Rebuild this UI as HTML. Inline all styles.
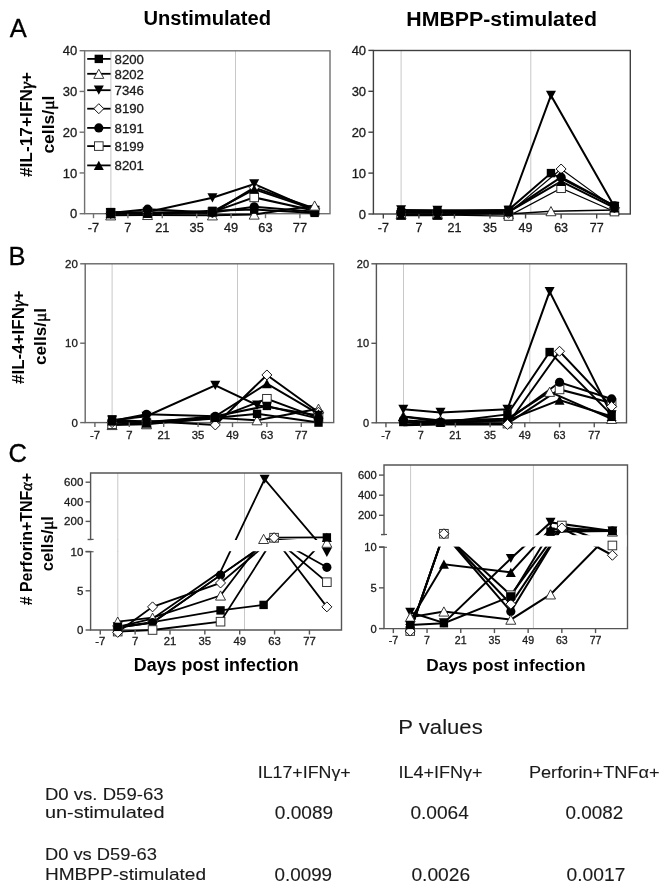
<!DOCTYPE html>
<html><head><meta charset="utf-8"><style>
html,body{margin:0;padding:0;background:#fff;width:672px;height:892px;overflow:hidden;}
svg{display:block;filter:grayscale(1);}
</style></head><body>
<svg width="672" height="892" viewBox="0 0 672 892">
<rect width="672" height="892" fill="#fff"/>
<line x1="110.9" y1="50.8" x2="110.9" y2="213.7" stroke="#c8c8c8" stroke-width="1"/>
<line x1="235.5" y1="50.8" x2="235.5" y2="213.7" stroke="#c8c8c8" stroke-width="1"/>
<rect x="84.6" y="50.8" width="245.4" height="162.9" fill="none" stroke="#707070" stroke-width="1.4"/>
<path d="M110.7 215.33L147.56 214.92L212.42 215.33L254.19 214.51L314.63 205.55" fill="none" stroke="#000" stroke-width="2.0" stroke-linejoin="miter"/>
<path d="M110.7 213.7L147.56 212.88L212.42 212.07L254.19 197.4L314.63 210.85" fill="none" stroke="#000" stroke-width="2.0" stroke-linejoin="miter"/>
<path d="M110.7 213.7L147.56 212.48L212.42 212.88L254.19 187.62L314.63 208.4" fill="none" stroke="#000" stroke-width="2.0" stroke-linejoin="miter"/>
<path d="M110.7 213.29L147.56 212.88L212.42 211.66L254.19 189.25L314.63 209.62" fill="none" stroke="#000" stroke-width="2.0" stroke-linejoin="miter"/>
<path d="M110.7 212.88L147.56 209.22L212.42 212.48L254.19 206.77L314.63 211.66" fill="none" stroke="#000" stroke-width="2.0" stroke-linejoin="miter"/>
<path d="M110.7 212.07L147.56 213.7L212.42 210.85L254.19 209.62L314.63 212.88" fill="none" stroke="#000" stroke-width="2.0" stroke-linejoin="miter"/>
<path d="M110.7 212.48L147.56 212.07L212.42 197.81L254.19 183.95L314.63 210.44" fill="none" stroke="#000" stroke-width="2.0" stroke-linejoin="miter"/>
<path d="M110.7 210.73L115.7 219.93L105.7 219.93Z" fill="#fff" stroke="#222" stroke-width="0.9"/>
<path d="M147.56 210.32L152.56 219.52L142.56 219.52Z" fill="#fff" stroke="#222" stroke-width="0.9"/>
<path d="M212.42 210.73L217.42 219.93L207.42 219.93Z" fill="#fff" stroke="#222" stroke-width="0.9"/>
<path d="M254.19 209.91L259.19 219.11L249.19 219.11Z" fill="#fff" stroke="#222" stroke-width="0.9"/>
<rect x="106.4" y="209.4" width="8.6" height="8.6" fill="#fff" stroke="#333" stroke-width="1"/>
<rect x="143.25" y="208.58" width="8.6" height="8.6" fill="#fff" stroke="#333" stroke-width="1"/>
<rect x="208.12" y="207.77" width="8.6" height="8.6" fill="#fff" stroke="#333" stroke-width="1"/>
<rect x="249.89" y="193.1" width="8.6" height="8.6" fill="#fff" stroke="#333" stroke-width="1"/>
<rect x="310.33" y="206.55" width="8.6" height="8.6" fill="#fff" stroke="#333" stroke-width="1"/>
<path d="M110.7 208.7L115.7 213.7L110.7 218.7L105.7 213.7Z" fill="#fff" stroke="#111" stroke-width="1"/>
<path d="M147.56 207.48L152.56 212.48L147.56 217.48L142.56 212.48Z" fill="#fff" stroke="#111" stroke-width="1"/>
<path d="M212.42 207.88L217.42 212.88L212.42 217.88L207.42 212.88Z" fill="#fff" stroke="#111" stroke-width="1"/>
<path d="M254.19 182.62L259.19 187.62L254.19 192.62L249.19 187.62Z" fill="#fff" stroke="#111" stroke-width="1"/>
<path d="M314.63 203.4L319.63 208.4L314.63 213.4L309.63 208.4Z" fill="#fff" stroke="#111" stroke-width="1"/>
<path d="M110.7 208.69L115.7 217.89L105.7 217.89Z" fill="#000"/>
<path d="M147.56 208.28L152.56 217.48L142.56 217.48Z" fill="#000"/>
<path d="M212.42 207.06L217.42 216.26L207.42 216.26Z" fill="#000"/>
<path d="M254.19 184.65L259.19 193.85L249.19 193.85Z" fill="#000"/>
<path d="M314.63 205.03L319.63 214.22L309.63 214.22Z" fill="#000"/>
<circle cx="110.7" cy="212.88" r="4.6" fill="#000"/>
<circle cx="147.56" cy="209.22" r="4.6" fill="#000"/>
<circle cx="212.42" cy="212.48" r="4.6" fill="#000"/>
<circle cx="254.19" cy="206.77" r="4.6" fill="#000"/>
<circle cx="314.63" cy="211.66" r="4.6" fill="#000"/>
<rect x="106.5" y="207.87" width="8.4" height="8.4" fill="#000"/>
<rect x="143.36" y="209.5" width="8.4" height="8.4" fill="#000"/>
<rect x="208.22" y="206.65" width="8.4" height="8.4" fill="#000"/>
<rect x="249.99" y="205.43" width="8.4" height="8.4" fill="#000"/>
<rect x="310.43" y="208.69" width="8.4" height="8.4" fill="#000"/>
<path d="M105.7 207.88L115.7 207.88L110.7 217.08Z" fill="#000"/>
<path d="M142.56 207.47L152.56 207.47L147.56 216.67Z" fill="#000"/>
<path d="M207.42 193.21L217.42 193.21L212.42 202.41Z" fill="#000"/>
<path d="M249.19 179.35L259.19 179.35L254.19 188.55Z" fill="#000"/>
<path d="M309.63 205.84L319.63 205.84L314.63 215.04Z" fill="#000"/>
<path d="M314.63 200.95L319.63 210.15L309.63 210.15Z" fill="#fff" stroke="#222" stroke-width="0.9"/>
<line x1="79.6" y1="213.7" x2="84.6" y2="213.7" stroke="#707070" stroke-width="1.4"/>
<text x="77.3" y="218.31" font-family='"Liberation Sans", sans-serif' font-size="13" font-weight="normal" text-anchor="end" fill="#1a1a1a" stroke="#1a1a1a" stroke-width="0.3" >0</text>
<line x1="79.6" y1="172.95" x2="84.6" y2="172.95" stroke="#707070" stroke-width="1.4"/>
<text x="77.3" y="177.56" font-family='"Liberation Sans", sans-serif' font-size="13" font-weight="normal" text-anchor="end" fill="#1a1a1a" stroke="#1a1a1a" stroke-width="0.3" >10</text>
<line x1="79.6" y1="132.2" x2="84.6" y2="132.2" stroke="#707070" stroke-width="1.4"/>
<text x="77.3" y="136.81" font-family='"Liberation Sans", sans-serif' font-size="13" font-weight="normal" text-anchor="end" fill="#1a1a1a" stroke="#1a1a1a" stroke-width="0.3" >20</text>
<line x1="79.6" y1="91.45" x2="84.6" y2="91.45" stroke="#707070" stroke-width="1.4"/>
<text x="77.3" y="96.06" font-family='"Liberation Sans", sans-serif' font-size="13" font-weight="normal" text-anchor="end" fill="#1a1a1a" stroke="#1a1a1a" stroke-width="0.3" >30</text>
<line x1="79.6" y1="50.7" x2="84.6" y2="50.7" stroke="#707070" stroke-width="1.4"/>
<text x="77.3" y="55.31" font-family='"Liberation Sans", sans-serif' font-size="13" font-weight="normal" text-anchor="end" fill="#1a1a1a" stroke="#1a1a1a" stroke-width="0.3" >40</text>
<line x1="93.5" y1="213.7" x2="93.5" y2="218.2" stroke="#707070" stroke-width="1.4"/>
<text x="93.5" y="232.1" font-family='"Liberation Sans", sans-serif' font-size="12.8" font-weight="normal" text-anchor="middle" fill="#1a1a1a" stroke="#1a1a1a" stroke-width="0.3" >-7</text>
<line x1="127.9" y1="213.7" x2="127.9" y2="218.2" stroke="#707070" stroke-width="1.4"/>
<text x="127.9" y="232.1" font-family='"Liberation Sans", sans-serif' font-size="12.8" font-weight="normal" text-anchor="middle" fill="#1a1a1a" stroke="#1a1a1a" stroke-width="0.3" >7</text>
<line x1="162.3" y1="213.7" x2="162.3" y2="218.2" stroke="#707070" stroke-width="1.4"/>
<text x="162.3" y="232.1" font-family='"Liberation Sans", sans-serif' font-size="12.8" font-weight="normal" text-anchor="middle" fill="#1a1a1a" stroke="#1a1a1a" stroke-width="0.3" >21</text>
<line x1="196.69" y1="213.7" x2="196.69" y2="218.2" stroke="#707070" stroke-width="1.4"/>
<text x="196.69" y="232.1" font-family='"Liberation Sans", sans-serif' font-size="12.8" font-weight="normal" text-anchor="middle" fill="#1a1a1a" stroke="#1a1a1a" stroke-width="0.3" >35</text>
<line x1="231.09" y1="213.7" x2="231.09" y2="218.2" stroke="#707070" stroke-width="1.4"/>
<text x="231.09" y="232.1" font-family='"Liberation Sans", sans-serif' font-size="12.8" font-weight="normal" text-anchor="middle" fill="#1a1a1a" stroke="#1a1a1a" stroke-width="0.3" >49</text>
<line x1="265.49" y1="213.7" x2="265.49" y2="218.2" stroke="#707070" stroke-width="1.4"/>
<text x="265.49" y="232.1" font-family='"Liberation Sans", sans-serif' font-size="12.8" font-weight="normal" text-anchor="middle" fill="#1a1a1a" stroke="#1a1a1a" stroke-width="0.3" >63</text>
<line x1="299.89" y1="213.7" x2="299.89" y2="218.2" stroke="#707070" stroke-width="1.4"/>
<text x="299.89" y="232.1" font-family='"Liberation Sans", sans-serif' font-size="12.8" font-weight="normal" text-anchor="middle" fill="#1a1a1a" stroke="#1a1a1a" stroke-width="0.3" >77</text>
<line x1="401.1" y1="50.5" x2="401.1" y2="214" stroke="#c8c8c8" stroke-width="1"/>
<line x1="530.8" y1="50.5" x2="530.8" y2="214" stroke="#c8c8c8" stroke-width="1"/>
<rect x="373.4" y="50.5" width="256.9" height="163.5" fill="none" stroke="#404040" stroke-width="1.4"/>
<path d="M401.1 214L437.42 214L508.54 214L550.96 211.14L614.46 209.91" fill="none" stroke="#000" stroke-width="1.5" stroke-linejoin="miter"/>
<path d="M401.1 214.82L437.42 214.82L508.54 216.04L561.12 188.23L614.46 211.55" fill="none" stroke="#000" stroke-width="1.2" stroke-linejoin="miter"/>
<path d="M401.1 215.23L437.42 215.23L508.54 211.96L561.12 181.28L614.46 207.87" fill="none" stroke="#000" stroke-width="2.0" stroke-linejoin="miter"/>
<path d="M401.1 211.96L437.42 211.96L508.54 211.96L561.12 177.19L614.46 205.82" fill="none" stroke="#000" stroke-width="2.0" stroke-linejoin="miter"/>
<path d="M401.1 213.18L437.42 213.18L508.54 213.18L561.12 169.01L614.46 207.87" fill="none" stroke="#000" stroke-width="1.2" stroke-linejoin="miter"/>
<path d="M401.1 211.96L437.42 211.55L508.54 209.91L550.96 173.1L614.46 205.82" fill="none" stroke="#000" stroke-width="2.0" stroke-linejoin="miter"/>
<path d="M401.1 209.91L437.42 210.32L508.54 210.32L550.96 95.39L614.46 206.64" fill="none" stroke="#000" stroke-width="2.0" stroke-linejoin="miter"/>
<path d="M401.1 209.4L406.1 218.6L396.1 218.6Z" fill="#fff" stroke="#222" stroke-width="0.9"/>
<path d="M437.42 209.4L442.42 218.6L432.42 218.6Z" fill="#fff" stroke="#222" stroke-width="0.9"/>
<path d="M508.54 209.4L513.54 218.6L503.54 218.6Z" fill="#fff" stroke="#222" stroke-width="0.9"/>
<path d="M550.96 206.54L555.96 215.74L545.96 215.74Z" fill="#fff" stroke="#222" stroke-width="0.9"/>
<path d="M614.46 205.31L619.46 214.51L609.46 214.51Z" fill="#fff" stroke="#222" stroke-width="0.9"/>
<rect x="396.8" y="210.52" width="8.6" height="8.6" fill="#fff" stroke="#333" stroke-width="1"/>
<rect x="433.12" y="210.52" width="8.6" height="8.6" fill="#fff" stroke="#333" stroke-width="1"/>
<rect x="504.24" y="211.74" width="8.6" height="8.6" fill="#fff" stroke="#333" stroke-width="1"/>
<rect x="556.82" y="183.93" width="8.6" height="8.6" fill="#fff" stroke="#333" stroke-width="1"/>
<rect x="610.16" y="207.25" width="8.6" height="8.6" fill="#fff" stroke="#333" stroke-width="1"/>
<path d="M401.1 208.18L406.1 213.18L401.1 218.18L396.1 213.18Z" fill="#fff" stroke="#111" stroke-width="1"/>
<path d="M437.42 208.18L442.42 213.18L437.42 218.18L432.42 213.18Z" fill="#fff" stroke="#111" stroke-width="1"/>
<path d="M508.54 208.18L513.54 213.18L508.54 218.18L503.54 213.18Z" fill="#fff" stroke="#111" stroke-width="1"/>
<path d="M561.12 164.01L566.12 169.01L561.12 174.01L556.12 169.01Z" fill="#fff" stroke="#111" stroke-width="1"/>
<path d="M614.46 202.87L619.46 207.87L614.46 212.87L609.46 207.87Z" fill="#fff" stroke="#111" stroke-width="1"/>
<path d="M401.1 210.63L406.1 219.83L396.1 219.83Z" fill="#000"/>
<path d="M437.42 210.63L442.42 219.83L432.42 219.83Z" fill="#000"/>
<path d="M508.54 207.36L513.54 216.56L503.54 216.56Z" fill="#000"/>
<path d="M561.12 176.68L566.12 185.88L556.12 185.88Z" fill="#000"/>
<path d="M614.46 203.27L619.46 212.47L609.46 212.47Z" fill="#000"/>
<circle cx="401.1" cy="211.96" r="4.6" fill="#000"/>
<circle cx="437.42" cy="211.96" r="4.6" fill="#000"/>
<circle cx="508.54" cy="211.96" r="4.6" fill="#000"/>
<circle cx="561.12" cy="177.19" r="4.6" fill="#000"/>
<circle cx="614.46" cy="205.82" r="4.6" fill="#000"/>
<rect x="396.9" y="207.76" width="8.4" height="8.4" fill="#000"/>
<rect x="433.22" y="207.35" width="8.4" height="8.4" fill="#000"/>
<rect x="504.34" y="205.71" width="8.4" height="8.4" fill="#000"/>
<rect x="546.76" y="168.9" width="8.4" height="8.4" fill="#000"/>
<rect x="610.26" y="201.62" width="8.4" height="8.4" fill="#000"/>
<path d="M396.1 205.31L406.1 205.31L401.1 214.51Z" fill="#000"/>
<path d="M432.42 205.72L442.42 205.72L437.42 214.92Z" fill="#000"/>
<path d="M503.54 205.72L513.54 205.72L508.54 214.92Z" fill="#000"/>
<path d="M545.96 90.79L555.96 90.79L550.96 99.99Z" fill="#000"/>
<path d="M609.46 202.04L619.46 202.04L614.46 211.24Z" fill="#000"/>
<line x1="368.4" y1="214" x2="373.4" y2="214" stroke="#404040" stroke-width="1.4"/>
<text x="366.1" y="218.62" font-family='"Liberation Sans", sans-serif' font-size="13" font-weight="normal" text-anchor="end" fill="#1a1a1a" stroke="#1a1a1a" stroke-width="0.3" >0</text>
<line x1="368.4" y1="173.1" x2="373.4" y2="173.1" stroke="#404040" stroke-width="1.4"/>
<text x="366.1" y="177.72" font-family='"Liberation Sans", sans-serif' font-size="13" font-weight="normal" text-anchor="end" fill="#1a1a1a" stroke="#1a1a1a" stroke-width="0.3" >10</text>
<line x1="368.4" y1="132.2" x2="373.4" y2="132.2" stroke="#404040" stroke-width="1.4"/>
<text x="366.1" y="136.81" font-family='"Liberation Sans", sans-serif' font-size="13" font-weight="normal" text-anchor="end" fill="#1a1a1a" stroke="#1a1a1a" stroke-width="0.3" >20</text>
<line x1="368.4" y1="91.3" x2="373.4" y2="91.3" stroke="#404040" stroke-width="1.4"/>
<text x="366.1" y="95.92" font-family='"Liberation Sans", sans-serif' font-size="13" font-weight="normal" text-anchor="end" fill="#1a1a1a" stroke="#1a1a1a" stroke-width="0.3" >30</text>
<line x1="368.4" y1="50.4" x2="373.4" y2="50.4" stroke="#404040" stroke-width="1.4"/>
<text x="366.1" y="55.02" font-family='"Liberation Sans", sans-serif' font-size="13" font-weight="normal" text-anchor="end" fill="#1a1a1a" stroke="#1a1a1a" stroke-width="0.3" >40</text>
<line x1="383.32" y1="214" x2="383.32" y2="218.5" stroke="#404040" stroke-width="1.4"/>
<text x="383.32" y="231.7" font-family='"Liberation Sans", sans-serif' font-size="12.5" font-weight="normal" text-anchor="middle" fill="#1a1a1a" stroke="#1a1a1a" stroke-width="0.3" >-7</text>
<line x1="418.88" y1="214" x2="418.88" y2="218.5" stroke="#404040" stroke-width="1.4"/>
<text x="418.88" y="231.7" font-family='"Liberation Sans", sans-serif' font-size="12.5" font-weight="normal" text-anchor="middle" fill="#1a1a1a" stroke="#1a1a1a" stroke-width="0.3" >7</text>
<line x1="454.44" y1="214" x2="454.44" y2="218.5" stroke="#404040" stroke-width="1.4"/>
<text x="454.44" y="231.7" font-family='"Liberation Sans", sans-serif' font-size="12.5" font-weight="normal" text-anchor="middle" fill="#1a1a1a" stroke="#1a1a1a" stroke-width="0.3" >21</text>
<line x1="490" y1="214" x2="490" y2="218.5" stroke="#404040" stroke-width="1.4"/>
<text x="490" y="231.7" font-family='"Liberation Sans", sans-serif' font-size="12.5" font-weight="normal" text-anchor="middle" fill="#1a1a1a" stroke="#1a1a1a" stroke-width="0.3" >35</text>
<line x1="525.56" y1="214" x2="525.56" y2="218.5" stroke="#404040" stroke-width="1.4"/>
<text x="525.56" y="231.7" font-family='"Liberation Sans", sans-serif' font-size="12.5" font-weight="normal" text-anchor="middle" fill="#1a1a1a" stroke="#1a1a1a" stroke-width="0.3" >49</text>
<line x1="561.12" y1="214" x2="561.12" y2="218.5" stroke="#404040" stroke-width="1.4"/>
<text x="561.12" y="231.7" font-family='"Liberation Sans", sans-serif' font-size="12.5" font-weight="normal" text-anchor="middle" fill="#1a1a1a" stroke="#1a1a1a" stroke-width="0.3" >63</text>
<line x1="596.68" y1="214" x2="596.68" y2="218.5" stroke="#404040" stroke-width="1.4"/>
<text x="596.68" y="231.7" font-family='"Liberation Sans", sans-serif' font-size="12.5" font-weight="normal" text-anchor="middle" fill="#1a1a1a" stroke="#1a1a1a" stroke-width="0.3" >77</text>
<line x1="112.1" y1="263.8" x2="112.1" y2="422.6" stroke="#c8c8c8" stroke-width="1"/>
<line x1="237.5" y1="263.8" x2="237.5" y2="422.6" stroke="#c8c8c8" stroke-width="1"/>
<rect x="85.2" y="263.8" width="248.5" height="158.8" fill="none" stroke="#666" stroke-width="1.4"/>
<path d="M112.1 424.98L146.5 424.19L215.29 417.84L257.06 420.22L318.49 408.71" fill="none" stroke="#000" stroke-width="2.0" stroke-linejoin="miter"/>
<path d="M112.1 424.19L146.5 423.39L215.29 418.63L266.89 398.78L318.49 417.84" fill="none" stroke="#000" stroke-width="2.0" stroke-linejoin="miter"/>
<path d="M112.1 422.6L146.5 421.01L215.29 424.98L266.89 374.96L318.49 412.28" fill="none" stroke="#000" stroke-width="2.0" stroke-linejoin="miter"/>
<path d="M112.1 421.01L146.5 422.6L215.29 416.25L266.89 383.69L318.49 413.87" fill="none" stroke="#000" stroke-width="2.0" stroke-linejoin="miter"/>
<path d="M112.1 421.01L146.5 414.26L215.29 416.25L266.89 405.93L318.49 418.63" fill="none" stroke="#000" stroke-width="2.0" stroke-linejoin="miter"/>
<path d="M112.1 419.42L146.5 421.81L215.29 417.84L257.06 413.87L318.49 422.6" fill="none" stroke="#000" stroke-width="2.0" stroke-linejoin="miter"/>
<path d="M112.1 420.22L146.5 416.25L215.29 385.28L257.06 405.13L318.49 415.45" fill="none" stroke="#000" stroke-width="2.0" stroke-linejoin="miter"/>
<path d="M112.1 420.38L117.1 429.58L107.1 429.58Z" fill="#fff" stroke="#222" stroke-width="0.9"/>
<path d="M146.5 419.59L151.5 428.79L141.5 428.79Z" fill="#fff" stroke="#222" stroke-width="0.9"/>
<path d="M215.29 413.24L220.29 422.44L210.29 422.44Z" fill="#fff" stroke="#222" stroke-width="0.9"/>
<path d="M257.06 415.62L262.06 424.82L252.06 424.82Z" fill="#fff" stroke="#222" stroke-width="0.9"/>
<path d="M318.49 404.11L323.49 413.31L313.49 413.31Z" fill="#fff" stroke="#222" stroke-width="0.9"/>
<rect x="107.8" y="419.89" width="8.6" height="8.6" fill="#fff" stroke="#333" stroke-width="1"/>
<rect x="142.2" y="419.09" width="8.6" height="8.6" fill="#fff" stroke="#333" stroke-width="1"/>
<rect x="210.99" y="414.33" width="8.6" height="8.6" fill="#fff" stroke="#333" stroke-width="1"/>
<rect x="262.59" y="394.48" width="8.6" height="8.6" fill="#fff" stroke="#333" stroke-width="1"/>
<rect x="314.19" y="413.54" width="8.6" height="8.6" fill="#fff" stroke="#333" stroke-width="1"/>
<path d="M112.1 417.6L117.1 422.6L112.1 427.6L107.1 422.6Z" fill="#fff" stroke="#111" stroke-width="1"/>
<path d="M146.5 416.01L151.5 421.01L146.5 426.01L141.5 421.01Z" fill="#fff" stroke="#111" stroke-width="1"/>
<path d="M215.29 419.98L220.29 424.98L215.29 429.98L210.29 424.98Z" fill="#fff" stroke="#111" stroke-width="1"/>
<path d="M266.89 369.96L271.89 374.96L266.89 379.96L261.89 374.96Z" fill="#fff" stroke="#111" stroke-width="1"/>
<path d="M318.49 407.28L323.49 412.28L318.49 417.28L313.49 412.28Z" fill="#fff" stroke="#111" stroke-width="1"/>
<path d="M112.1 416.41L117.1 425.61L107.1 425.61Z" fill="#000"/>
<path d="M146.5 418L151.5 427.2L141.5 427.2Z" fill="#000"/>
<path d="M215.29 411.65L220.29 420.85L210.29 420.85Z" fill="#000"/>
<path d="M266.89 379.09L271.89 388.29L261.89 388.29Z" fill="#000"/>
<path d="M318.49 409.27L323.49 418.47L313.49 418.47Z" fill="#000"/>
<circle cx="112.1" cy="421.01" r="4.6" fill="#000"/>
<circle cx="146.5" cy="414.26" r="4.6" fill="#000"/>
<circle cx="215.29" cy="416.25" r="4.6" fill="#000"/>
<circle cx="318.49" cy="418.63" r="4.6" fill="#000"/>
<rect x="107.9" y="415.22" width="8.4" height="8.4" fill="#000"/>
<rect x="142.3" y="417.61" width="8.4" height="8.4" fill="#000"/>
<rect x="211.09" y="413.64" width="8.4" height="8.4" fill="#000"/>
<rect x="252.86" y="409.67" width="8.4" height="8.4" fill="#000"/>
<rect x="314.29" y="418.4" width="8.4" height="8.4" fill="#000"/>
<path d="M107.1 415.62L117.1 415.62L112.1 424.82Z" fill="#000"/>
<path d="M141.5 411.65L151.5 411.65L146.5 420.85Z" fill="#000"/>
<path d="M210.29 380.68L220.29 380.68L215.29 389.88Z" fill="#000"/>
<path d="M252.06 400.53L262.06 400.53L257.06 409.73Z" fill="#000"/>
<path d="M313.49 410.85L323.49 410.85L318.49 420.05Z" fill="#000"/>
<rect x="262.69" y="401.73" width="8.4" height="8.4" fill="#000"/>
<line x1="80.2" y1="422.6" x2="85.2" y2="422.6" stroke="#666" stroke-width="1.4"/>
<text x="77.9" y="426.68" font-family='"Liberation Sans", sans-serif' font-size="11.5" font-weight="normal" text-anchor="end" fill="#1a1a1a" stroke="#1a1a1a" stroke-width="0.3" >0</text>
<line x1="80.2" y1="343.2" x2="85.2" y2="343.2" stroke="#666" stroke-width="1.4"/>
<text x="77.9" y="347.28" font-family='"Liberation Sans", sans-serif' font-size="11.5" font-weight="normal" text-anchor="end" fill="#1a1a1a" stroke="#1a1a1a" stroke-width="0.3" >10</text>
<line x1="80.2" y1="263.8" x2="85.2" y2="263.8" stroke="#666" stroke-width="1.4"/>
<text x="77.9" y="267.88" font-family='"Liberation Sans", sans-serif' font-size="11.5" font-weight="normal" text-anchor="end" fill="#1a1a1a" stroke="#1a1a1a" stroke-width="0.3" >20</text>
<line x1="94.9" y1="422.6" x2="94.9" y2="427.1" stroke="#666" stroke-width="1.4"/>
<text x="94.9" y="438.9" font-family='"Liberation Sans", sans-serif' font-size="11.3" font-weight="normal" text-anchor="middle" fill="#1a1a1a" stroke="#1a1a1a" stroke-width="0.3" >-7</text>
<line x1="129.3" y1="422.6" x2="129.3" y2="427.1" stroke="#666" stroke-width="1.4"/>
<text x="129.3" y="438.9" font-family='"Liberation Sans", sans-serif' font-size="11.3" font-weight="normal" text-anchor="middle" fill="#1a1a1a" stroke="#1a1a1a" stroke-width="0.3" >7</text>
<line x1="163.7" y1="422.6" x2="163.7" y2="427.1" stroke="#666" stroke-width="1.4"/>
<text x="163.7" y="438.9" font-family='"Liberation Sans", sans-serif' font-size="11.3" font-weight="normal" text-anchor="middle" fill="#1a1a1a" stroke="#1a1a1a" stroke-width="0.3" >21</text>
<line x1="198.09" y1="422.6" x2="198.09" y2="427.1" stroke="#666" stroke-width="1.4"/>
<text x="198.09" y="438.9" font-family='"Liberation Sans", sans-serif' font-size="11.3" font-weight="normal" text-anchor="middle" fill="#1a1a1a" stroke="#1a1a1a" stroke-width="0.3" >35</text>
<line x1="232.49" y1="422.6" x2="232.49" y2="427.1" stroke="#666" stroke-width="1.4"/>
<text x="232.49" y="438.9" font-family='"Liberation Sans", sans-serif' font-size="11.3" font-weight="normal" text-anchor="middle" fill="#1a1a1a" stroke="#1a1a1a" stroke-width="0.3" >49</text>
<line x1="266.89" y1="422.6" x2="266.89" y2="427.1" stroke="#666" stroke-width="1.4"/>
<text x="266.89" y="438.9" font-family='"Liberation Sans", sans-serif' font-size="11.3" font-weight="normal" text-anchor="middle" fill="#1a1a1a" stroke="#1a1a1a" stroke-width="0.3" >63</text>
<line x1="301.29" y1="422.6" x2="301.29" y2="427.1" stroke="#666" stroke-width="1.4"/>
<text x="301.29" y="438.9" font-family='"Liberation Sans", sans-serif' font-size="11.3" font-weight="normal" text-anchor="middle" fill="#1a1a1a" stroke="#1a1a1a" stroke-width="0.3" >77</text>
<line x1="403.5" y1="263.8" x2="403.5" y2="422.8" stroke="#c8c8c8" stroke-width="1"/>
<line x1="529.8" y1="263.8" x2="529.8" y2="422.8" stroke="#c8c8c8" stroke-width="1"/>
<rect x="376.4" y="263.8" width="250.1" height="159" fill="none" stroke="#555" stroke-width="1.4"/>
<path d="M403.3 416.44L440.5 420.42L507.46 418.82L549.62 391.8L611.62 418.82" fill="none" stroke="#000" stroke-width="2.0" stroke-linejoin="miter"/>
<path d="M403.3 424.39L440.5 422.8L507.46 423.6L559.54 389.41L611.62 402.93" fill="none" stroke="#000" stroke-width="2.0" stroke-linejoin="miter"/>
<path d="M403.3 416.44L440.5 422L507.46 420.42L559.54 400.14L611.62 416.44" fill="none" stroke="#000" stroke-width="2.0" stroke-linejoin="miter"/>
<path d="M403.3 420.42L440.5 422L507.46 420.42L559.54 382.25L611.62 398.95" fill="none" stroke="#000" stroke-width="2.0" stroke-linejoin="miter"/>
<path d="M403.3 425.19L440.5 424.39L507.46 424.39L559.54 351.25L611.62 406.5" fill="none" stroke="#000" stroke-width="2.0" stroke-linejoin="miter"/>
<path d="M403.3 422L440.5 422.8L507.46 414.37L549.62 352.05L611.62 414.85" fill="none" stroke="#000" stroke-width="2.0" stroke-linejoin="miter"/>
<path d="M403.3 409.29L440.5 412.47L507.46 409.29L549.62 291.62L611.62 414.85" fill="none" stroke="#000" stroke-width="2.0" stroke-linejoin="miter"/>
<path d="M403.3 411.84L408.3 421.04L398.3 421.04Z" fill="#fff" stroke="#222" stroke-width="0.9"/>
<path d="M440.5 415.81L445.5 425.02L435.5 425.02Z" fill="#fff" stroke="#222" stroke-width="0.9"/>
<path d="M507.46 414.22L512.46 423.43L502.46 423.43Z" fill="#fff" stroke="#222" stroke-width="0.9"/>
<path d="M549.62 387.19L554.62 396.4L544.62 396.4Z" fill="#fff" stroke="#222" stroke-width="0.9"/>
<path d="M611.62 414.22L616.62 423.43L606.62 423.43Z" fill="#fff" stroke="#222" stroke-width="0.9"/>
<rect x="503.16" y="419.3" width="8.6" height="8.6" fill="#fff" stroke="#333" stroke-width="1"/>
<rect x="555.24" y="385.11" width="8.6" height="8.6" fill="#fff" stroke="#333" stroke-width="1"/>
<rect x="607.32" y="398.62" width="8.6" height="8.6" fill="#fff" stroke="#333" stroke-width="1"/>
<path d="M403.3 411.84L408.3 421.04L398.3 421.04Z" fill="#000"/>
<path d="M440.5 417.4L445.5 426.61L435.5 426.61Z" fill="#000"/>
<path d="M507.46 415.81L512.46 425.02L502.46 425.02Z" fill="#000"/>
<path d="M559.54 395.54L564.54 404.74L554.54 404.74Z" fill="#000"/>
<path d="M611.62 411.84L616.62 421.04L606.62 421.04Z" fill="#000"/>
<circle cx="403.3" cy="420.42" r="4.6" fill="#000"/>
<circle cx="440.5" cy="422" r="4.6" fill="#000"/>
<circle cx="507.46" cy="420.42" r="4.6" fill="#000"/>
<circle cx="559.54" cy="382.25" r="4.6" fill="#000"/>
<circle cx="611.62" cy="398.95" r="4.6" fill="#000"/>
<path d="M507.46 419.39L512.46 424.39L507.46 429.39L502.46 424.39Z" fill="#fff" stroke="#111" stroke-width="1"/>
<path d="M559.54 346.25L564.54 351.25L559.54 356.25L554.54 351.25Z" fill="#fff" stroke="#111" stroke-width="1"/>
<path d="M611.62 401.5L616.62 406.5L611.62 411.5L606.62 406.5Z" fill="#fff" stroke="#111" stroke-width="1"/>
<rect x="399.1" y="417.81" width="8.4" height="8.4" fill="#000"/>
<rect x="436.3" y="418.6" width="8.4" height="8.4" fill="#000"/>
<rect x="503.26" y="410.17" width="8.4" height="8.4" fill="#000"/>
<rect x="545.42" y="347.85" width="8.4" height="8.4" fill="#000"/>
<rect x="607.42" y="410.65" width="8.4" height="8.4" fill="#000"/>
<path d="M398.3 404.69L408.3 404.69L403.3 413.89Z" fill="#000"/>
<path d="M435.5 407.87L445.5 407.87L440.5 417.07Z" fill="#000"/>
<path d="M502.46 404.69L512.46 404.69L507.46 413.89Z" fill="#000"/>
<path d="M544.62 287.02L554.62 287.02L549.62 296.23Z" fill="#000"/>
<path d="M606.62 410.25L616.62 410.25L611.62 419.45Z" fill="#000"/>
<line x1="371.4" y1="422.8" x2="376.4" y2="422.8" stroke="#555" stroke-width="1.4"/>
<text x="369.1" y="426.7" font-family='"Liberation Sans", sans-serif' font-size="11" font-weight="normal" text-anchor="end" fill="#1a1a1a" stroke="#1a1a1a" stroke-width="0.3" >0</text>
<line x1="371.4" y1="343.3" x2="376.4" y2="343.3" stroke="#555" stroke-width="1.4"/>
<text x="369.1" y="347.2" font-family='"Liberation Sans", sans-serif' font-size="11" font-weight="normal" text-anchor="end" fill="#1a1a1a" stroke="#1a1a1a" stroke-width="0.3" >10</text>
<line x1="371.4" y1="263.8" x2="376.4" y2="263.8" stroke="#555" stroke-width="1.4"/>
<text x="369.1" y="267.7" font-family='"Liberation Sans", sans-serif' font-size="11" font-weight="normal" text-anchor="end" fill="#1a1a1a" stroke="#1a1a1a" stroke-width="0.3" >20</text>
<line x1="385.94" y1="422.8" x2="385.94" y2="427.3" stroke="#555" stroke-width="1.4"/>
<text x="385.94" y="438.8" font-family='"Liberation Sans", sans-serif' font-size="10.8" font-weight="normal" text-anchor="middle" fill="#1a1a1a" stroke="#1a1a1a" stroke-width="0.3" >-7</text>
<line x1="420.66" y1="422.8" x2="420.66" y2="427.3" stroke="#555" stroke-width="1.4"/>
<text x="420.66" y="438.8" font-family='"Liberation Sans", sans-serif' font-size="10.8" font-weight="normal" text-anchor="middle" fill="#1a1a1a" stroke="#1a1a1a" stroke-width="0.3" >7</text>
<line x1="455.38" y1="422.8" x2="455.38" y2="427.3" stroke="#555" stroke-width="1.4"/>
<text x="455.38" y="438.8" font-family='"Liberation Sans", sans-serif' font-size="10.8" font-weight="normal" text-anchor="middle" fill="#1a1a1a" stroke="#1a1a1a" stroke-width="0.3" >21</text>
<line x1="490.1" y1="422.8" x2="490.1" y2="427.3" stroke="#555" stroke-width="1.4"/>
<text x="490.1" y="438.8" font-family='"Liberation Sans", sans-serif' font-size="10.8" font-weight="normal" text-anchor="middle" fill="#1a1a1a" stroke="#1a1a1a" stroke-width="0.3" >35</text>
<line x1="524.82" y1="422.8" x2="524.82" y2="427.3" stroke="#555" stroke-width="1.4"/>
<text x="524.82" y="438.8" font-family='"Liberation Sans", sans-serif' font-size="10.8" font-weight="normal" text-anchor="middle" fill="#1a1a1a" stroke="#1a1a1a" stroke-width="0.3" >49</text>
<line x1="559.54" y1="422.8" x2="559.54" y2="427.3" stroke="#555" stroke-width="1.4"/>
<text x="559.54" y="438.8" font-family='"Liberation Sans", sans-serif' font-size="10.8" font-weight="normal" text-anchor="middle" fill="#1a1a1a" stroke="#1a1a1a" stroke-width="0.3" >63</text>
<line x1="594.26" y1="422.8" x2="594.26" y2="427.3" stroke="#555" stroke-width="1.4"/>
<text x="594.26" y="438.8" font-family='"Liberation Sans", sans-serif' font-size="10.8" font-weight="normal" text-anchor="middle" fill="#1a1a1a" stroke="#1a1a1a" stroke-width="0.3" >77</text>
<line x1="117.8" y1="473" x2="117.8" y2="630" stroke="#c8c8c8" stroke-width="1"/>
<line x1="244.5" y1="473" x2="244.5" y2="630" stroke="#c8c8c8" stroke-width="1"/>
<path d="M90.6 539.5L90.6 473L341.5 473L341.5 630L90.6 630L90.6 551.6" fill="none" stroke="#555" stroke-width="1.4"/>
<line x1="87.6" y1="539.5" x2="93.6" y2="539.5" stroke="#555" stroke-width="1.4"/>
<line x1="85.6" y1="551.6" x2="93.6" y2="551.6" stroke="#555" stroke-width="1.4"/>
<path d="M117.7 621.61L152.56 617.69L220.54 595.5L263.61 538.9L326.86 542.7" fill="none" stroke="#000" stroke-width="1.8" stroke-linejoin="miter"/>
<path d="M117.7 631.57L152.56 630L220.54 621.69L274.07 537.7L326.86 582.18" fill="none" stroke="#000" stroke-width="1.8" stroke-linejoin="miter"/>
<path d="M117.7 632.35L152.56 606.87L220.54 582.96L274.07 537.7L326.86 606.87" fill="none" stroke="#000" stroke-width="1.8" stroke-linejoin="miter"/>
<path d="M117.7 627.65L152.56 622.55L220.54 575.12L274.07 537.7L326.86 537.4" fill="none" stroke="#000" stroke-width="1.8" stroke-linejoin="miter"/>
<path d="M117.7 627.65L152.56 622.55L220.54 575.12L274.07 537.7L326.86 567.28" fill="none" stroke="#000" stroke-width="1.8" stroke-linejoin="miter"/>
<path d="M117.7 626.86L152.56 622.16L220.54 610.4L263.61 604.91L326.86 537.4" fill="none" stroke="#000" stroke-width="1.8" stroke-linejoin="miter"/>
<path d="M117.7 626.86L152.56 618.63L220.54 571.59L264.61 479.26L326.86 552.38" fill="none" stroke="#000" stroke-width="1.8" stroke-linejoin="miter"/>
<rect x="91.6" y="540" width="248.9" height="11.2" fill="#fff"/>
<line x1="117.8" y1="539.5" x2="117.8" y2="551.7" stroke="#c8c8c8" stroke-width="1"/>
<line x1="244.5" y1="539.5" x2="244.5" y2="551.7" stroke="#c8c8c8" stroke-width="1"/>
<path d="M117.7 623.05L122.7 632.25L112.7 632.25Z" fill="#000"/>
<path d="M274.07 533.1L279.07 542.3L269.07 542.3Z" fill="#000"/>
<path d="M326.86 532.8L331.86 542L321.86 542Z" fill="#000"/>
<path d="M112.7 622.26L122.7 622.26L117.7 631.46Z" fill="#000"/>
<path d="M259.61 474.66L269.61 474.66L264.61 483.86Z" fill="#000"/>
<path d="M321.86 547.78L331.86 547.78L326.86 556.98Z" fill="#000"/>
<path d="M117.7 617.01L122.7 626.21L112.7 626.21Z" fill="#fff" stroke="#222" stroke-width="0.9"/>
<path d="M152.56 613.09L157.56 622.29L147.56 622.29Z" fill="#fff" stroke="#222" stroke-width="0.9"/>
<path d="M220.54 590.9L225.54 600.1L215.54 600.1Z" fill="#fff" stroke="#222" stroke-width="0.9"/>
<path d="M263.61 534.3L268.61 543.5L258.61 543.5Z" fill="#fff" stroke="#222" stroke-width="0.9"/>
<path d="M326.86 538.1L331.86 547.3L321.86 547.3Z" fill="#fff" stroke="#222" stroke-width="0.9"/>
<circle cx="117.7" cy="627.65" r="4.6" fill="#000"/>
<circle cx="152.56" cy="622.55" r="4.6" fill="#000"/>
<circle cx="220.54" cy="575.12" r="4.6" fill="#000"/>
<circle cx="274.07" cy="537.7" r="4.6" fill="#000"/>
<circle cx="326.86" cy="567.28" r="4.6" fill="#000"/>
<rect x="113.4" y="627.27" width="8.6" height="8.6" fill="#fff" stroke="#333" stroke-width="1"/>
<rect x="148.26" y="625.7" width="8.6" height="8.6" fill="#fff" stroke="#333" stroke-width="1"/>
<rect x="216.24" y="617.39" width="8.6" height="8.6" fill="#fff" stroke="#333" stroke-width="1"/>
<rect x="269.77" y="533.4" width="8.6" height="8.6" fill="#fff" stroke="#333" stroke-width="1"/>
<rect x="322.56" y="577.88" width="8.6" height="8.6" fill="#fff" stroke="#333" stroke-width="1"/>
<path d="M117.7 627.35L122.7 632.35L117.7 637.35L112.7 632.35Z" fill="#fff" stroke="#111" stroke-width="1"/>
<path d="M152.56 601.87L157.56 606.87L152.56 611.87L147.56 606.87Z" fill="#fff" stroke="#111" stroke-width="1"/>
<path d="M220.54 577.96L225.54 582.96L220.54 587.96L215.54 582.96Z" fill="#fff" stroke="#111" stroke-width="1"/>
<path d="M274.07 532.7L279.07 537.7L274.07 542.7L269.07 537.7Z" fill="#fff" stroke="#111" stroke-width="1"/>
<path d="M326.86 601.87L331.86 606.87L326.86 611.87L321.86 606.87Z" fill="#fff" stroke="#111" stroke-width="1"/>
<rect x="113.5" y="622.66" width="8.4" height="8.4" fill="#000"/>
<rect x="216.34" y="606.2" width="8.4" height="8.4" fill="#000"/>
<rect x="259.41" y="600.71" width="8.4" height="8.4" fill="#000"/>
<rect x="322.66" y="533.2" width="8.4" height="8.4" fill="#000"/>
<line x1="85.6" y1="630" x2="90.6" y2="630" stroke="#555" stroke-width="1.4"/>
<text x="83.3" y="634.08" font-family='"Liberation Sans", sans-serif' font-size="11.5" font-weight="normal" text-anchor="end" fill="#1a1a1a" stroke="#1a1a1a" stroke-width="0.3" >0</text>
<line x1="85.6" y1="590.8" x2="90.6" y2="590.8" stroke="#555" stroke-width="1.4"/>
<text x="83.3" y="594.88" font-family='"Liberation Sans", sans-serif' font-size="11.5" font-weight="normal" text-anchor="end" fill="#1a1a1a" stroke="#1a1a1a" stroke-width="0.3" >5</text>
<line x1="85.6" y1="551.6" x2="90.6" y2="551.6" stroke="#555" stroke-width="1.4"/>
<text x="83.3" y="555.68" font-family='"Liberation Sans", sans-serif' font-size="11.5" font-weight="normal" text-anchor="end" fill="#1a1a1a" stroke="#1a1a1a" stroke-width="0.3" >10</text>
<line x1="85.6" y1="521.4" x2="90.6" y2="521.4" stroke="#555" stroke-width="1.4"/>
<text x="83.3" y="525.48" font-family='"Liberation Sans", sans-serif' font-size="11.5" font-weight="normal" text-anchor="end" fill="#1a1a1a" stroke="#1a1a1a" stroke-width="0.3" >200</text>
<line x1="85.6" y1="501.8" x2="90.6" y2="501.8" stroke="#555" stroke-width="1.4"/>
<text x="83.3" y="505.88" font-family='"Liberation Sans", sans-serif' font-size="11.5" font-weight="normal" text-anchor="end" fill="#1a1a1a" stroke="#1a1a1a" stroke-width="0.3" >400</text>
<line x1="85.6" y1="482.2" x2="90.6" y2="482.2" stroke="#555" stroke-width="1.4"/>
<text x="83.3" y="486.28" font-family='"Liberation Sans", sans-serif' font-size="11.5" font-weight="normal" text-anchor="end" fill="#1a1a1a" stroke="#1a1a1a" stroke-width="0.3" >600</text>
<line x1="100.27" y1="630" x2="100.27" y2="634.5" stroke="#555" stroke-width="1.4"/>
<text x="100.27" y="645" font-family='"Liberation Sans", sans-serif' font-size="11.3" font-weight="normal" text-anchor="middle" fill="#1a1a1a" stroke="#1a1a1a" stroke-width="0.3" >-7</text>
<line x1="135.13" y1="630" x2="135.13" y2="634.5" stroke="#555" stroke-width="1.4"/>
<text x="135.13" y="645" font-family='"Liberation Sans", sans-serif' font-size="11.3" font-weight="normal" text-anchor="middle" fill="#1a1a1a" stroke="#1a1a1a" stroke-width="0.3" >7</text>
<line x1="169.99" y1="630" x2="169.99" y2="634.5" stroke="#555" stroke-width="1.4"/>
<text x="169.99" y="645" font-family='"Liberation Sans", sans-serif' font-size="11.3" font-weight="normal" text-anchor="middle" fill="#1a1a1a" stroke="#1a1a1a" stroke-width="0.3" >21</text>
<line x1="204.85" y1="630" x2="204.85" y2="634.5" stroke="#555" stroke-width="1.4"/>
<text x="204.85" y="645" font-family='"Liberation Sans", sans-serif' font-size="11.3" font-weight="normal" text-anchor="middle" fill="#1a1a1a" stroke="#1a1a1a" stroke-width="0.3" >35</text>
<line x1="239.71" y1="630" x2="239.71" y2="634.5" stroke="#555" stroke-width="1.4"/>
<text x="239.71" y="645" font-family='"Liberation Sans", sans-serif' font-size="11.3" font-weight="normal" text-anchor="middle" fill="#1a1a1a" stroke="#1a1a1a" stroke-width="0.3" >49</text>
<line x1="274.57" y1="630" x2="274.57" y2="634.5" stroke="#555" stroke-width="1.4"/>
<text x="274.57" y="645" font-family='"Liberation Sans", sans-serif' font-size="11.3" font-weight="normal" text-anchor="middle" fill="#1a1a1a" stroke="#1a1a1a" stroke-width="0.3" >63</text>
<line x1="309.43" y1="630" x2="309.43" y2="634.5" stroke="#555" stroke-width="1.4"/>
<text x="309.43" y="645" font-family='"Liberation Sans", sans-serif' font-size="11.3" font-weight="normal" text-anchor="middle" fill="#1a1a1a" stroke="#1a1a1a" stroke-width="0.3" >77</text>
<line x1="410.6" y1="465" x2="410.6" y2="628.6" stroke="#c8c8c8" stroke-width="1"/>
<line x1="533.4" y1="465" x2="533.4" y2="628.6" stroke="#c8c8c8" stroke-width="1"/>
<path d="M384 534.6L384 465L627.5 465L627.5 628.6L384 628.6L384 547.1" fill="none" stroke="#555" stroke-width="1.4"/>
<line x1="381" y1="534.6" x2="387" y2="534.6" stroke="#555" stroke-width="1.4"/>
<line x1="379" y1="547.1" x2="387" y2="547.1" stroke="#555" stroke-width="1.4"/>
<path d="M410.2 617.19L443.9 611.49L510.81 619.63L550.53 594.37L612.39 531.5" fill="none" stroke="#000" stroke-width="2.0" stroke-linejoin="miter"/>
<path d="M410.2 631.05L443.9 533.75L510.81 595.19L561.84 525.5L612.39 545.47" fill="none" stroke="#000" stroke-width="2.0" stroke-linejoin="miter"/>
<path d="M410.2 631.05L443.9 533.75L510.81 604.15L561.84 528L612.39 555.25" fill="none" stroke="#000" stroke-width="2.0" stroke-linejoin="miter"/>
<path d="M410.2 620.45L443.9 564.22L510.81 572.37L550.53 529L612.39 531" fill="none" stroke="#000" stroke-width="2.0" stroke-linejoin="miter"/>
<path d="M410.2 631.05L443.9 533.75L510.81 611.49L561.84 528L612.39 531" fill="none" stroke="#000" stroke-width="2.0" stroke-linejoin="miter"/>
<path d="M410.2 624.93L443.9 623.22L510.81 596.41L550.53 531.7L612.39 531" fill="none" stroke="#000" stroke-width="2.0" stroke-linejoin="miter"/>
<path d="M410.2 612.3L443.9 622.89L510.81 558.51L550.53 522.4L612.39 531" fill="none" stroke="#000" stroke-width="2.0" stroke-linejoin="miter"/>
<rect x="385" y="535.2" width="241.5" height="11.4" fill="#fff"/>
<line x1="410.6" y1="534.7" x2="410.6" y2="547.1" stroke="#c8c8c8" stroke-width="1"/>
<line x1="533.4" y1="534.7" x2="533.4" y2="547.1" stroke="#c8c8c8" stroke-width="1"/>
<path d="M410.2 615.85L415.2 625.05L405.2 625.05Z" fill="#000"/>
<path d="M443.9 559.62L448.9 568.82L438.9 568.82Z" fill="#000"/>
<path d="M510.81 567.76L515.81 576.97L505.81 576.97Z" fill="#000"/>
<path d="M550.53 524.4L555.53 533.6L545.53 533.6Z" fill="#000"/>
<path d="M612.39 526.4L617.39 535.6L607.39 535.6Z" fill="#000"/>
<circle cx="410.2" cy="631.05" r="4.6" fill="#000"/>
<circle cx="443.9" cy="533.75" r="4.6" fill="#000"/>
<circle cx="510.81" cy="611.49" r="4.6" fill="#000"/>
<circle cx="561.84" cy="528" r="4.6" fill="#000"/>
<circle cx="612.39" cy="531" r="4.6" fill="#000"/>
<path d="M405.2 607.7L415.2 607.7L410.2 616.9Z" fill="#000"/>
<path d="M438.9 618.29L448.9 618.29L443.9 627.5Z" fill="#000"/>
<path d="M505.81 553.91L515.81 553.91L510.81 563.11Z" fill="#000"/>
<path d="M545.53 517.8L555.53 517.8L550.53 527Z" fill="#000"/>
<path d="M607.39 526.4L617.39 526.4L612.39 535.6Z" fill="#000"/>
<path d="M410.2 612.59L415.2 621.79L405.2 621.79Z" fill="#fff" stroke="#222" stroke-width="0.9"/>
<path d="M443.9 606.88L448.9 616.09L438.9 616.09Z" fill="#fff" stroke="#222" stroke-width="0.9"/>
<path d="M510.81 615.03L515.81 624.24L505.81 624.24Z" fill="#fff" stroke="#222" stroke-width="0.9"/>
<path d="M550.53 589.77L555.53 598.97L545.53 598.97Z" fill="#fff" stroke="#222" stroke-width="0.9"/>
<path d="M612.39 526.9L617.39 536.1L607.39 536.1Z" fill="#fff" stroke="#222" stroke-width="0.9"/>
<rect x="405.9" y="626.75" width="8.6" height="8.6" fill="#fff" stroke="#333" stroke-width="1"/>
<rect x="439.6" y="529.45" width="8.6" height="8.6" fill="#fff" stroke="#333" stroke-width="1"/>
<rect x="506.51" y="590.89" width="8.6" height="8.6" fill="#fff" stroke="#333" stroke-width="1"/>
<rect x="557.54" y="521.2" width="8.6" height="8.6" fill="#fff" stroke="#333" stroke-width="1"/>
<rect x="608.09" y="541.17" width="8.6" height="8.6" fill="#fff" stroke="#333" stroke-width="1"/>
<path d="M410.2 626.05L415.2 631.05L410.2 636.05L405.2 631.05Z" fill="#fff" stroke="#111" stroke-width="1"/>
<path d="M443.9 528.75L448.9 533.75L443.9 538.75L438.9 533.75Z" fill="#fff" stroke="#111" stroke-width="1"/>
<path d="M510.81 599.15L515.81 604.15L510.81 609.15L505.81 604.15Z" fill="#fff" stroke="#111" stroke-width="1"/>
<path d="M561.84 523L566.84 528L561.84 533L556.84 528Z" fill="#fff" stroke="#111" stroke-width="1"/>
<path d="M612.39 550.25L617.39 555.25L612.39 560.25L607.39 555.25Z" fill="#fff" stroke="#111" stroke-width="1"/>
<rect x="406" y="620.73" width="8.4" height="8.4" fill="#000"/>
<rect x="439.7" y="619.02" width="8.4" height="8.4" fill="#000"/>
<rect x="506.61" y="592.21" width="8.4" height="8.4" fill="#000"/>
<rect x="546.33" y="527.5" width="8.4" height="8.4" fill="#000"/>
<rect x="608.19" y="526.8" width="8.4" height="8.4" fill="#000"/>
<line x1="379" y1="628.6" x2="384" y2="628.6" stroke="#555" stroke-width="1.4"/>
<text x="376.7" y="632.58" font-family='"Liberation Sans", sans-serif' font-size="11.2" font-weight="normal" text-anchor="end" fill="#1a1a1a" stroke="#1a1a1a" stroke-width="0.3" >0</text>
<line x1="379" y1="587.85" x2="384" y2="587.85" stroke="#555" stroke-width="1.4"/>
<text x="376.7" y="591.83" font-family='"Liberation Sans", sans-serif' font-size="11.2" font-weight="normal" text-anchor="end" fill="#1a1a1a" stroke="#1a1a1a" stroke-width="0.3" >5</text>
<line x1="379" y1="547.1" x2="384" y2="547.1" stroke="#555" stroke-width="1.4"/>
<text x="376.7" y="551.08" font-family='"Liberation Sans", sans-serif' font-size="11.2" font-weight="normal" text-anchor="end" fill="#1a1a1a" stroke="#1a1a1a" stroke-width="0.3" >10</text>
<line x1="379" y1="515.3" x2="384" y2="515.3" stroke="#555" stroke-width="1.4"/>
<text x="376.7" y="519.28" font-family='"Liberation Sans", sans-serif' font-size="11.2" font-weight="normal" text-anchor="end" fill="#1a1a1a" stroke="#1a1a1a" stroke-width="0.3" >200</text>
<line x1="379" y1="495.2" x2="384" y2="495.2" stroke="#555" stroke-width="1.4"/>
<text x="376.7" y="499.18" font-family='"Liberation Sans", sans-serif' font-size="11.2" font-weight="normal" text-anchor="end" fill="#1a1a1a" stroke="#1a1a1a" stroke-width="0.3" >400</text>
<line x1="379" y1="475.1" x2="384" y2="475.1" stroke="#555" stroke-width="1.4"/>
<text x="376.7" y="479.08" font-family='"Liberation Sans", sans-serif' font-size="11.2" font-weight="normal" text-anchor="end" fill="#1a1a1a" stroke="#1a1a1a" stroke-width="0.3" >600</text>
<line x1="393.35" y1="628.6" x2="393.35" y2="633.1" stroke="#555" stroke-width="1.4"/>
<text x="393.35" y="644" font-family='"Liberation Sans", sans-serif' font-size="10.6" font-weight="normal" text-anchor="middle" fill="#1a1a1a" stroke="#1a1a1a" stroke-width="0.3" >-7</text>
<line x1="427.05" y1="628.6" x2="427.05" y2="633.1" stroke="#555" stroke-width="1.4"/>
<text x="427.05" y="644" font-family='"Liberation Sans", sans-serif' font-size="10.6" font-weight="normal" text-anchor="middle" fill="#1a1a1a" stroke="#1a1a1a" stroke-width="0.3" >7</text>
<line x1="460.75" y1="628.6" x2="460.75" y2="633.1" stroke="#555" stroke-width="1.4"/>
<text x="460.75" y="644" font-family='"Liberation Sans", sans-serif' font-size="10.6" font-weight="normal" text-anchor="middle" fill="#1a1a1a" stroke="#1a1a1a" stroke-width="0.3" >21</text>
<line x1="494.44" y1="628.6" x2="494.44" y2="633.1" stroke="#555" stroke-width="1.4"/>
<text x="494.44" y="644" font-family='"Liberation Sans", sans-serif' font-size="10.6" font-weight="normal" text-anchor="middle" fill="#1a1a1a" stroke="#1a1a1a" stroke-width="0.3" >35</text>
<line x1="528.14" y1="628.6" x2="528.14" y2="633.1" stroke="#555" stroke-width="1.4"/>
<text x="528.14" y="644" font-family='"Liberation Sans", sans-serif' font-size="10.6" font-weight="normal" text-anchor="middle" fill="#1a1a1a" stroke="#1a1a1a" stroke-width="0.3" >49</text>
<line x1="561.84" y1="628.6" x2="561.84" y2="633.1" stroke="#555" stroke-width="1.4"/>
<text x="561.84" y="644" font-family='"Liberation Sans", sans-serif' font-size="10.6" font-weight="normal" text-anchor="middle" fill="#1a1a1a" stroke="#1a1a1a" stroke-width="0.3" >63</text>
<line x1="595.54" y1="628.6" x2="595.54" y2="633.1" stroke="#555" stroke-width="1.4"/>
<text x="595.54" y="644" font-family='"Liberation Sans", sans-serif' font-size="10.6" font-weight="normal" text-anchor="middle" fill="#1a1a1a" stroke="#1a1a1a" stroke-width="0.3" >77</text>
<line x1="87.2" y1="58.9" x2="110.6" y2="58.9" stroke="#000" stroke-width="1.8"/>
<rect x="94.6" y="54.7" width="8.4" height="8.4" fill="#000"/>
<text x="114.6" y="63.6" font-family='"Liberation Sans", sans-serif' font-size="13.2" font-weight="normal" text-anchor="start" fill="#1a1a1a" stroke="#1a1a1a" stroke-width="0.3" >8200</text>
<line x1="87.2" y1="73.8" x2="110.6" y2="73.8" stroke="#000" stroke-width="1.8"/>
<path d="M98.8 69.2L103.8 78.4L93.8 78.4Z" fill="#fff" stroke="#222" stroke-width="0.9"/>
<text x="114.6" y="78.5" font-family='"Liberation Sans", sans-serif' font-size="13.2" font-weight="normal" text-anchor="start" fill="#1a1a1a" stroke="#1a1a1a" stroke-width="0.3" >8202</text>
<line x1="87.2" y1="90.2" x2="110.6" y2="90.2" stroke="#000" stroke-width="1.8"/>
<path d="M93.8 85.6L103.8 85.6L98.8 94.8Z" fill="#000"/>
<text x="114.6" y="94.9" font-family='"Liberation Sans", sans-serif' font-size="13.2" font-weight="normal" text-anchor="start" fill="#1a1a1a" stroke="#1a1a1a" stroke-width="0.3" >7346</text>
<line x1="87.2" y1="108.7" x2="110.6" y2="108.7" stroke="#000" stroke-width="1.8"/>
<path d="M98.8 103.7L103.8 108.7L98.8 113.7L93.8 108.7Z" fill="#fff" stroke="#111" stroke-width="1"/>
<text x="114.6" y="113.4" font-family='"Liberation Sans", sans-serif' font-size="13.2" font-weight="normal" text-anchor="start" fill="#1a1a1a" stroke="#1a1a1a" stroke-width="0.3" >8190</text>
<line x1="87.2" y1="127.9" x2="110.6" y2="127.9" stroke="#000" stroke-width="1.8"/>
<circle cx="98.8" cy="127.9" r="4.6" fill="#000"/>
<text x="114.6" y="132.6" font-family='"Liberation Sans", sans-serif' font-size="13.2" font-weight="normal" text-anchor="start" fill="#1a1a1a" stroke="#1a1a1a" stroke-width="0.3" >8191</text>
<line x1="87.2" y1="146.1" x2="110.6" y2="146.1" stroke="#000" stroke-width="1.8"/>
<rect x="94.5" y="141.8" width="8.6" height="8.6" fill="#fff" stroke="#333" stroke-width="1"/>
<text x="114.6" y="150.8" font-family='"Liberation Sans", sans-serif' font-size="13.2" font-weight="normal" text-anchor="start" fill="#1a1a1a" stroke="#1a1a1a" stroke-width="0.3" >8199</text>
<line x1="87.2" y1="165.4" x2="110.6" y2="165.4" stroke="#000" stroke-width="1.8"/>
<path d="M98.8 160.8L103.8 170L93.8 170Z" fill="#000"/>
<text x="114.6" y="170.1" font-family='"Liberation Sans", sans-serif' font-size="13.2" font-weight="normal" text-anchor="start" fill="#1a1a1a" stroke="#1a1a1a" stroke-width="0.3" >8201</text>
<text x="9.8" y="37.3" font-family='"Liberation Sans", sans-serif' font-size="25.5" font-weight="normal" text-anchor="start" fill="#000" stroke="#000" stroke-width="0.3" >A</text>
<text x="8.6" y="264.8" font-family='"Liberation Sans", sans-serif' font-size="25.5" font-weight="normal" text-anchor="start" fill="#000" stroke="#000" stroke-width="0.3" >B</text>
<text x="8.6" y="462" font-family='"Liberation Sans", sans-serif' font-size="25.5" font-weight="normal" text-anchor="start" fill="#000" stroke="#000" stroke-width="0.3" >C</text>
<text x="207.2" y="25.2" font-family='"Liberation Sans", sans-serif' font-size="20" font-weight="bold" text-anchor="middle" fill="#000" textLength="127.5" lengthAdjust="spacingAndGlyphs" >Unstimulated</text>
<text x="501.6" y="25.9" font-family='"Liberation Sans", sans-serif' font-size="19.5" font-weight="bold" text-anchor="middle" fill="#000" textLength="190.7" lengthAdjust="spacingAndGlyphs" >HMBPP-stimulated</text>
<text transform="translate(31.6,124.6) rotate(-90)" x="0" y="0" font-family='"Liberation Sans", sans-serif' font-size="17" font-weight="bold" text-anchor="middle" textLength="105" lengthAdjust="spacingAndGlyphs">#IL-17+IFN<tspan font-weight="normal" font-family="Liberation Serif" font-style="italic" stroke="#000" stroke-width="0.6">γ</tspan>+</text>
<text transform="translate(53.9,124.6) rotate(-90)" x="0" y="0" font-family='"Liberation Sans", sans-serif' font-size="17" font-weight="bold" text-anchor="middle" textLength="58" lengthAdjust="spacingAndGlyphs">cells/<tspan font-weight="normal" font-family="Liberation Serif" stroke="#000" stroke-width="0.5">μ</tspan>l</text>
<text transform="translate(24.4,337.2) rotate(-90)" x="0" y="0" font-family='"Liberation Sans", sans-serif' font-size="17" font-weight="bold" text-anchor="middle" textLength="93.4" lengthAdjust="spacingAndGlyphs">#IL-4+IFN<tspan font-weight="normal" font-family="Liberation Serif" font-style="italic" stroke="#000" stroke-width="0.6">γ</tspan>+</text>
<text transform="translate(46.4,336.5) rotate(-90)" x="0" y="0" font-family='"Liberation Sans", sans-serif' font-size="17" font-weight="bold" text-anchor="middle" textLength="57" lengthAdjust="spacingAndGlyphs">cells/<tspan font-weight="normal" font-family="Liberation Serif" stroke="#000" stroke-width="0.5">μ</tspan>l</text>
<text transform="translate(32.2,539.2) rotate(-90)" x="0" y="0" font-family='"Liberation Sans", sans-serif' font-size="17" font-weight="bold" text-anchor="middle" textLength="132.3" lengthAdjust="spacingAndGlyphs"># Perforin+TNF<tspan font-weight="normal" font-family="Liberation Serif" font-style="italic" stroke="#000" stroke-width="0.5">α</tspan>+</text>
<text transform="translate(53.4,543.7) rotate(-90)" x="0" y="0" font-family='"Liberation Sans", sans-serif' font-size="17" font-weight="bold" text-anchor="middle" textLength="55" lengthAdjust="spacingAndGlyphs">cells/<tspan font-weight="normal" font-family="Liberation Serif" stroke="#000" stroke-width="0.5">μ</tspan>l</text>
<text x="216.2" y="671.4" font-family='"Liberation Sans", sans-serif' font-size="17.5" font-weight="bold" text-anchor="middle" fill="#000" textLength="164.8" lengthAdjust="spacingAndGlyphs" >Days post infection</text>
<text x="505.9" y="670.6" font-family='"Liberation Sans", sans-serif' font-size="17.2" font-weight="bold" text-anchor="middle" fill="#000" textLength="159.1" lengthAdjust="spacingAndGlyphs" >Days post infection</text>
<text x="398.3" y="734.2" font-family='"Liberation Sans", sans-serif' font-size="20.5" font-weight="normal" text-anchor="start" fill="#1a1a1a" stroke="#1a1a1a" stroke-width="0.1" textLength="84.4" lengthAdjust="spacingAndGlyphs" >P values</text>
<text x="257.7" y="777.9" font-family='"Liberation Sans", sans-serif' font-size="16.2" font-weight="normal" text-anchor="start" fill="#1a1a1a" stroke="#1a1a1a" stroke-width="0.1" textLength="93.1" lengthAdjust="spacingAndGlyphs" >IL17+IFNγ+</text>
<text x="398.4" y="777.9" font-family='"Liberation Sans", sans-serif' font-size="16.2" font-weight="normal" text-anchor="start" fill="#1a1a1a" stroke="#1a1a1a" stroke-width="0.1" textLength="84.1" lengthAdjust="spacingAndGlyphs" >IL4+IFNγ+</text>
<text x="528.9" y="777.9" font-family='"Liberation Sans", sans-serif' font-size="16.2" font-weight="normal" text-anchor="start" fill="#1a1a1a" stroke="#1a1a1a" stroke-width="0.1" textLength="130.7" lengthAdjust="spacingAndGlyphs" >Perforin+TNFα+</text>
<text x="44.9" y="799.6" font-family='"Liberation Sans", sans-serif' font-size="16.2" font-weight="normal" text-anchor="start" fill="#1a1a1a" stroke="#1a1a1a" stroke-width="0.1" textLength="118.7" lengthAdjust="spacingAndGlyphs" >D0 vs. D59-63</text>
<text x="44.9" y="817.6" font-family='"Liberation Sans", sans-serif' font-size="16.2" font-weight="normal" text-anchor="start" fill="#1a1a1a" stroke="#1a1a1a" stroke-width="0.1" textLength="119.6" lengthAdjust="spacingAndGlyphs" >un-stimulated</text>
<text x="274.8" y="818.5" font-family='"Liberation Sans", sans-serif' font-size="18.3" font-weight="normal" text-anchor="start" fill="#1a1a1a" stroke="#1a1a1a" stroke-width="0.1" textLength="58.3" lengthAdjust="spacingAndGlyphs" >0.0089</text>
<text x="410.4" y="818.5" font-family='"Liberation Sans", sans-serif' font-size="18.3" font-weight="normal" text-anchor="start" fill="#1a1a1a" stroke="#1a1a1a" stroke-width="0.1" textLength="58.5" lengthAdjust="spacingAndGlyphs" >0.0064</text>
<text x="565.6" y="818.5" font-family='"Liberation Sans", sans-serif' font-size="18.3" font-weight="normal" text-anchor="start" fill="#1a1a1a" stroke="#1a1a1a" stroke-width="0.1" textLength="57.7" lengthAdjust="spacingAndGlyphs" >0.0082</text>
<text x="44.9" y="860.2" font-family='"Liberation Sans", sans-serif' font-size="16.2" font-weight="normal" text-anchor="start" fill="#1a1a1a" stroke="#1a1a1a" stroke-width="0.1" textLength="112.1" lengthAdjust="spacingAndGlyphs" >D0 vs D59-63</text>
<text x="44.9" y="879.8" font-family='"Liberation Sans", sans-serif' font-size="16.2" font-weight="normal" text-anchor="start" fill="#1a1a1a" stroke="#1a1a1a" stroke-width="0.1" textLength="161.2" lengthAdjust="spacingAndGlyphs" >HMBPP-stimulated</text>
<text x="274.5" y="880.8" font-family='"Liberation Sans", sans-serif' font-size="18.3" font-weight="normal" text-anchor="start" fill="#1a1a1a" stroke="#1a1a1a" stroke-width="0.1" textLength="57.6" lengthAdjust="spacingAndGlyphs" >0.0099</text>
<text x="411.4" y="880.8" font-family='"Liberation Sans", sans-serif' font-size="18.3" font-weight="normal" text-anchor="start" fill="#1a1a1a" stroke="#1a1a1a" stroke-width="0.1" textLength="58.8" lengthAdjust="spacingAndGlyphs" >0.0026</text>
<text x="566.6" y="880.8" font-family='"Liberation Sans", sans-serif' font-size="18.3" font-weight="normal" text-anchor="start" fill="#1a1a1a" stroke="#1a1a1a" stroke-width="0.1" textLength="58.8" lengthAdjust="spacingAndGlyphs" >0.0017</text>
</svg>
</body></html>
